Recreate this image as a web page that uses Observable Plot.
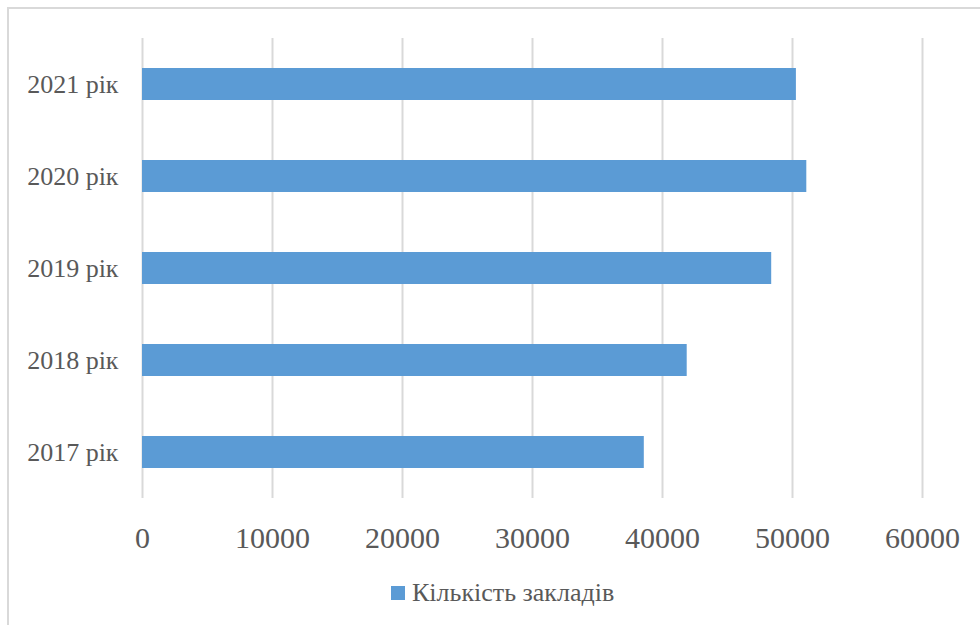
<!DOCTYPE html>
<html>
<head>
<meta charset="utf-8">
<script src="https://cdn.jsdelivr.net/npm/d3@7"></script>
<script src="https://cdn.jsdelivr.net/npm/@observablehq/plot@0.6"></script>
<style>
  html, body { margin: 0; padding: 0; background: #fff; }
  #wrap { position: relative; width: 980px; height: 625px; overflow: hidden; font-family: 'Liberation Serif', serif; }
  #frame { position: absolute; left: 7px; top: 7px; width: 1000px; height: 700px; border: 2px solid #d9d9d9; box-sizing: border-box; }
  #chart { position: absolute; left: 0; top: 0; }
  #chart svg, #chart svg text { font-family: 'Liberation Serif', serif !important; }
  #legend { position: absolute; left: 391px; top: 578px; height: 30px; display: flex; align-items: center; gap: 7px; color: #595959; font-size: 26px; white-space: nowrap; font-family: 'Liberation Serif', serif; }
  #legend .sw { width: 14px; height: 14px; background: #5b9bd5; }
</style>
</head>
<body>
<div id="wrap">
  <div id="frame"></div>
  <div id="chart"></div>
  <div id="legend"><span class="sw"></span><span>Кількість закладів</span></div>
</div>
<script>
// Кількість закладів за роками
const years = ["2021 рік", "2020 рік", "2019 рік", "2018 рік", "2017 рік"];
const counts = [50300, 51100, 48400, 41900, 38600];
const xTicks = [0, 10000, 20000, 30000, 40000, 50000, 60000];

const data = years.map((year, i) => ({year, count: counts[i]}));

const chart = Plot.plot({
  width: 980,
  height: 560,
  marginTop: 38,
  marginBottom: 62,
  marginLeft: 142,
  marginRight: 58,
  style: {background: "transparent", overflow: "visible"},
  x: {domain: [0, 60000], ticks: xTicks},
  y: {domain: years, paddingInner: 0.652, paddingOuter: 0.326},
  marks: [
    Plot.gridX(xTicks, {stroke: "#d9d9d9", strokeOpacity: 1, strokeWidth: 2}),
    Plot.barX(data, {y: "year", x: "count", fill: "#5b9bd5"}),
    Plot.axisX(xTicks, {tickSize: 0, tickPadding: 28, fontSize: 30, fill: "#595959", tickFormat: d => String(d), label: null}),
    Plot.axisY({tickSize: 0, tickPadding: 24, fontSize: 26, fill: "#595959", label: null})
  ]
});
document.getElementById("chart").appendChild(chart);
</script>
</body>
</html>
